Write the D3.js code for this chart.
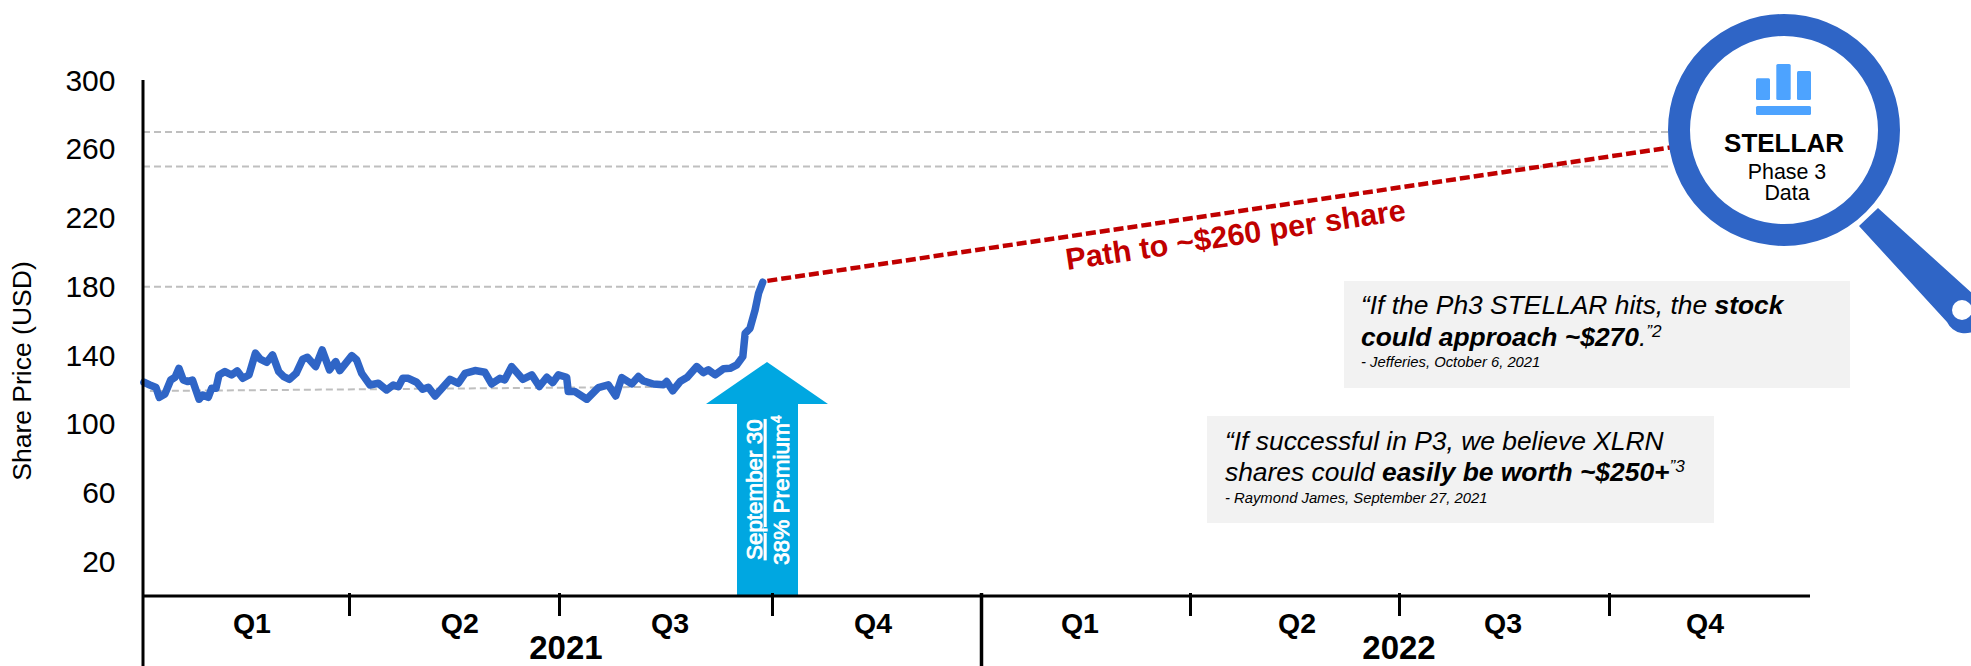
<!DOCTYPE html>
<html><head><meta charset="utf-8">
<script src="https://cdn.jsdelivr.net/npm/d3@7/dist/d3.min.js"></script>
<style>
html,body{margin:0;padding:0;background:#fff}
svg{display:block}
text{font-family:"Liberation Sans",Arial,sans-serif;fill:#000}
</style></head><body>
<svg id="c" width="1971" height="666"></svg>
<script>
const yTicks=[20,60,100,140,180,220,260,300];
const quarterEdges=[0,90,181,273,365,455,546,638,730];
const quarterNames=["Q1","Q2","Q3","Q4","Q1","Q2","Q3","Q4"];
const quarterLabelDays=[47.6,138,229,317.5,407.6,501.6,591.6,682];
const years=["2021","2022"];
const yearLabelDays=[184,546];
const priceDays=[0.4,3,5.7,7.1,9.6,12.1,14,15.7,17.6,19.4,21.6,24.5,26.1,28.5,30,31.9,33.2,35.8,38.7,41.2,43.6,46.3,49.1,51.2,54.1,56.6,59.3,61.5,64,66.9,69.8,71.8,75.4,78.3,81.5,84.2,86,91.2,93.3,95.5,99.1,102.7,106.3,109.2,111.4,113.3,115.7,119.3,121.9,124.4,127.3,133.8,137.4,140.3,144.6,148.9,151.8,155.4,157.5,160.5,165.3,169.2,172.5,175.7,178.3,180.7,184.3,185,187.9,193,198,202.3,205.5,208.1,212.4,215.3,217.4,221.7,226.1,227.5,230.1,233.3,236.4,240.5,243.3,245.5,248.4,252,254.9,257.8,260.4,261.4,263.5,265.7,267.2,269];
const prices=[124.4,122.8,121.3,115.6,117.6,125.7,127.3,132.5,125.7,124.8,125.7,114.5,117,115.6,120.9,120.9,128.6,130.6,128.6,131,126.7,128.6,141.3,137.8,136,140.3,130.6,127.7,126.1,129.6,137.8,138.9,133.5,143.2,131.6,136.4,131.2,139.9,137.4,129.6,122.8,123.8,119.9,122.8,121.8,126.7,126.7,124.4,120.3,121.5,116.4,126.1,123.8,129.6,131.2,130.2,123.4,126.7,125.8,133.5,126.1,128.7,121.9,127.3,124.2,128.7,127.3,119,119,114.5,121.3,122.9,116.4,127.1,123.4,127.7,125.2,123.4,122.9,124.8,119.4,124.8,127.3,133.5,130,131.6,128.7,132.2,132.5,134.5,139.3,152.9,155.8,166.5,176.2,182.6];
const pathDays=[271,666];
const pathValues=[183.4,261];
const refLines=[
 {days:[0,666],values:[270,270]},
 {days:[0,666],values:[250,250]},
 {days:[0,269],values:[180,180]},
 {days:[3,233],values:[119.3,121.8]}
];

const blue="#2F65C6",red="#C00000",cyan="#00A7E1",iconBlue="#4DA3FF",grey="#BFBFBF",box="#F2F2F2";
const svg=d3.select("#c");
const x=d3.scaleLinear().domain(quarterEdges).range([143,349,559,772,981,1190,1399,1609,1810]);
const y=d3.scaleLinear().domain([0,300]).range([596,80.5]);
const line=d3.line().x(d=>x(d[0])).y(d=>y(d[1]));

svg.append("g").selectAll("path").data(refLines).join("path")
 .attr("d",d=>line(d3.zip(d.days,d.values)))
 .attr("fill","none").attr("stroke",grey).attr("stroke-width",2).attr("stroke-dasharray","7 4");

svg.append("path").attr("d",line(d3.zip(pathDays,pathValues)))
 .attr("fill","none").attr("stroke",red).attr("stroke-width",4.5).attr("stroke-dasharray","10 4");

svg.append("path").attr("d",line(d3.zip(priceDays,prices)))
 .attr("fill","none").attr("stroke",blue).attr("stroke-width",7.5)
 .attr("stroke-linejoin","round").attr("stroke-linecap","round");

svg.append("path").attr("d","M767 362L828 404H798V595.5H737V404H706Z").attr("fill",cyan);
svg.append("text").attr("transform","translate(762,560) rotate(-90)")
 .attr("font-size",22.4).attr("stroke","#fff").attr("stroke-width",0.8).style("fill","#fff").attr("text-decoration","underline").text("September 30");
const a2=svg.append("text").attr("transform","translate(789,565) rotate(-90)")
 .attr("font-size",22.6).attr("stroke","#fff").attr("stroke-width",0.8).style("fill","#fff");
a2.append("tspan").text("38% Premium");
a2.append("tspan").attr("font-size",14).attr("dy",-8).text("4");

const yAxis=d3.axisLeft(y).tickValues(yTicks).tickSize(0).tickPadding(0);
const gy=svg.append("g").attr("transform","translate(115.5,0)").call(yAxis);
gy.select(".domain").remove();
gy.selectAll("text").attr("font-size",30).style("font-family",'"Liberation Sans",Arial,sans-serif');
svg.append("line").attr("x1",143).attr("x2",143).attr("y1",80).attr("y2",666).attr("stroke","#000").attr("stroke-width",3);
svg.append("text").attr("transform","translate(31,371) rotate(-90)").attr("text-anchor","middle")
 .attr("font-size",26.5).text("Share Price (USD)");

const xAxis=d3.axisBottom(x).tickValues(quarterEdges.slice(1)).tickSize(20).tickFormat("");
const gx=svg.append("g").attr("transform","translate(0,596)").call(xAxis);
gx.select(".domain").attr("d","M143 0H1810").attr("stroke","#000").attr("stroke-width",3);
gx.selectAll(".tick line").attr("stroke","#000").attr("stroke-width",3).attr("y1",-3);
gx.selectAll(".tick").filter(d=>d===730).remove();
gx.selectAll(".tick").filter(d=>d===365).select("line").attr("y2",70).attr("stroke-width",3.5);

svg.append("g").selectAll("text").data(quarterNames).join("text")
 .attr("x",(d,i)=>x(quarterLabelDays[i])).attr("y",633).attr("text-anchor","middle")
 .attr("font-size",28.5).attr("font-weight",700).text(d=>d);
svg.append("g").selectAll("text").data(years).join("text")
 .attr("x",(d,i)=>x(yearLabelDays[i])).attr("y",659).attr("text-anchor","middle")
 .attr("font-size",33).attr("font-weight",700).text(d=>d);

svg.append("text").attr("transform","translate(1237,245) rotate(-8.4)").attr("text-anchor","middle")
 .attr("font-size",30.5).attr("font-weight",700).style("fill",red).text("Path to ~$260 per share");

svg.append("rect").attr("x",1344).attr("y",281).attr("width",506).attr("height",107).attr("fill",box);
svg.append("rect").attr("x",1207).attr("y",416).attr("width",507).attr("height",107).attr("fill",box);
function rich(xp,yp,size,parts){
 const t=svg.append("text").attr("x",xp).attr("y",yp).attr("font-size",size).attr("font-style","italic");
 parts.forEach(p=>{
  const s=t.append("tspan").text(p.t);
  if(p.b) s.attr("font-weight",700);
  if(p.sup) s.attr("font-size",size*0.65).attr("dy",-9);
 });
}
rich(1361,314,26.4,[{t:"“If the Ph3 STELLAR hits, the "},{t:"stock",b:1}]);
rich(1361,346,26.4,[{t:"could approach ~$270",b:1},{t:"."},{t:"”2",sup:1}]);
rich(1361,367,14.8,[{t:"- Jefferies, October 6, 2021"}]);
rich(1225,450,26.4,[{t:"“If successful in P3, we believe XLRN"}]);
rich(1225,481,26.4,[{t:"shares could "},{t:"easily be worth ~$250+",b:1},{t:"”3",sup:1}]);
rich(1225,503,14.8,[{t:"- Raymond James, September 27, 2021"}]);

svg.append("path").attr("d","M1878 208L1859 226L1947 322A20 20 0 1 0 1975 296Z").attr("fill",blue);
svg.append("circle").attr("cx",1962).attr("cy",310).attr("r",10).attr("fill","#fff");
svg.append("circle").attr("cx",1784).attr("cy",130).attr("r",105).attr("fill","#fff").attr("stroke",blue).attr("stroke-width",22);
[[1756,78.3,14,21.7],[1776.3,64,14.4,36],[1797,71,14,29],[1756,106,55,9]].forEach(r=>{
 svg.append("rect").attr("x",r[0]).attr("y",r[1]).attr("width",r[2]).attr("height",r[3]).attr("rx",1.5).attr("fill",iconBlue);
});
svg.append("text").attr("x",1784).attr("y",152).attr("text-anchor","middle").attr("font-size",26).attr("font-weight",700).text("STELLAR");
svg.append("text").attr("x",1787).attr("y",179).attr("text-anchor","middle").attr("font-size",21.4).text("Phase 3");
svg.append("text").attr("x",1787).attr("y",200).attr("text-anchor","middle").attr("font-size",21.4).text("Data");
</script></body></html>
